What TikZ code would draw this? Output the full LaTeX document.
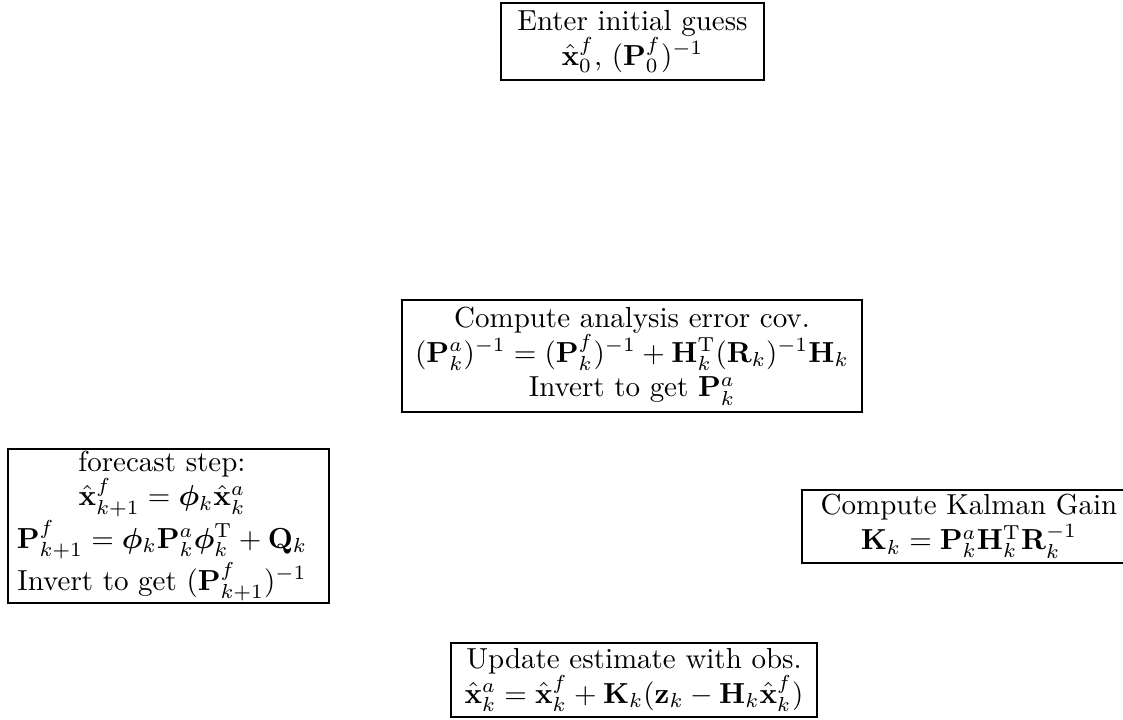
\documentclass[tikz,border=0pt]{standalone}
\usepackage{amsmath,bm}
\begin{document}
\begin{tikzpicture}[x=0.345pt,y=-0.345pt,
  box/.style={draw,line width=0.6pt,align=center,inner xsep=0pt,inner ysep=0pt},
  frame/.style={draw,line width=0.6pt,inner sep=0pt},
  txt/.style={align=center,inner sep=0pt}]
\useasboundingbox (0,0) rectangle (1123,719);
\node[box,minimum width=90.7pt,minimum height=26.6pt] (init) at (632.5,41.5) {Enter initial guess\\ $\hat{\mathbf{x}}_0^f$, $(\mathbf{P}_0^f)^{-1}$};
\node[box,minimum width=158.7pt,minimum height=38.6pt] (cov) at (632,356) {Compute analysis error cov.\\ $(\mathbf{P}_k^a)^{-1}=(\mathbf{P}_k^f)^{-1}+\mathbf{H}_k^{\mathrm{T}}(\mathbf{R}_k)^{-1}\mathbf{H}_k$\\ Invert to get $\mathbf{P}_k^a$};
\node[frame,minimum width=110.7pt,minimum height=53.1pt] (fcframe) at (168.5,526) {};
\node[txt] (fc) at (162,526) {forecast step:\\ $\hat{\mathbf{x}}_{k+1}^f=\bm{\phi}_k\hat{\mathbf{x}}_k^a$\\ $\mathbf{P}_{k+1}^f=\bm{\phi}_k\mathbf{P}_k^a\bm{\phi}_k^{\mathrm{T}}+\mathbf{Q}_k$\\ Invert to get $(\mathbf{P}_{k+1}^f)^{-1}$};
\node[box,minimum width=115.2pt,minimum height=25.2pt] (gain) at (969,526.5) {Compute Kalman Gain\\ $\mathbf{K}_k=\mathbf{P}_k^a\mathbf{H}_k^{\mathrm{T}}\mathbf{R}_k^{-1}$};
\node[box,minimum width=126.3pt,minimum height=25.5pt] (upd) at (634,680) {Update estimate with obs.\\ $\hat{\mathbf{x}}_k^a=\hat{\mathbf{x}}_k^f+\mathbf{K}_k(\mathbf{z}_k-\mathbf{H}_k\hat{\mathbf{x}}_k^f)$};
\end{tikzpicture}
\end{document}
